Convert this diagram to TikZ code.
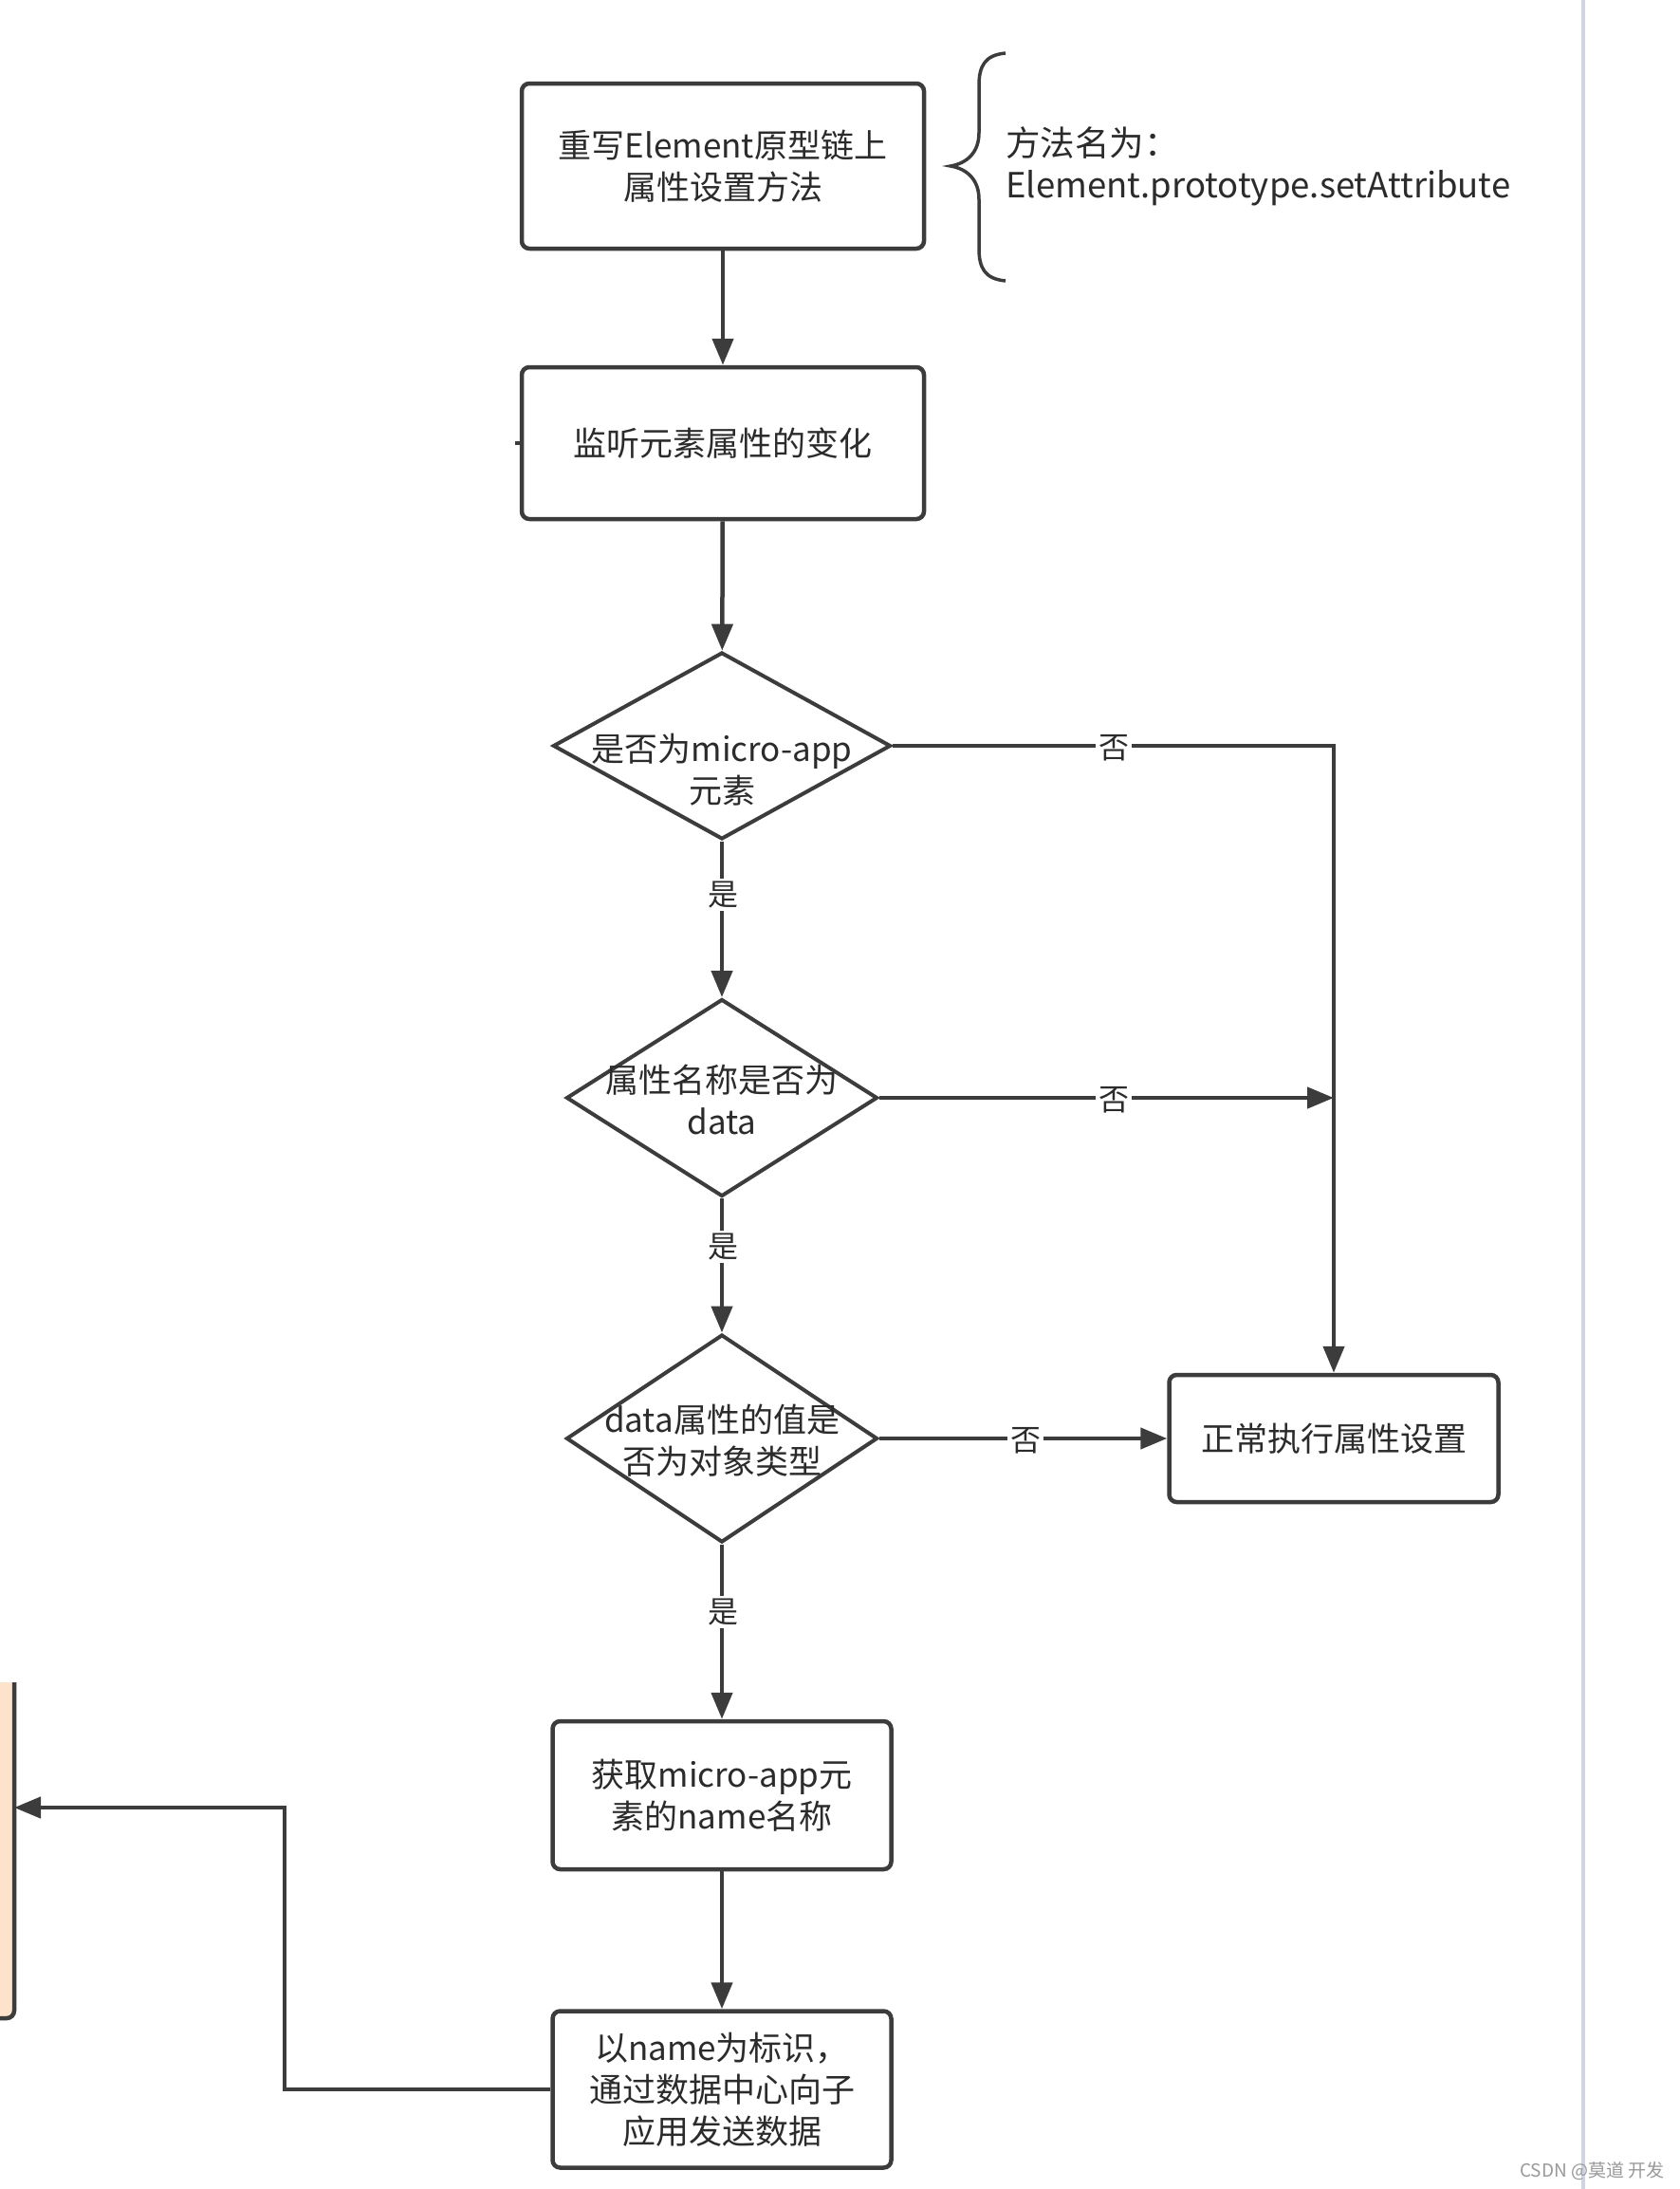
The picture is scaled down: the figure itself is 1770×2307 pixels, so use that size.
\documentclass[tikz,border=0pt]{standalone}
\usepackage{fontspec}
\newfontfamily\cjk{Noto Sans CJK SC}
\usetikzlibrary{shapes.geometric,arrows.meta}
\definecolor{ln}{HTML}{3C3C3C}
\definecolor{txt}{HTML}{2B2B2B}
\definecolor{peach}{HTML}{FDE3CB}
\definecolor{sep}{HTML}{CDD5E0}
\begin{document}
\begin{tikzpicture}[x=1pt,y=-1pt,
  box/.style={draw=ln, line width=4.5pt, rounded corners=8pt, fill=white, font=\cjk\fontsize{35}{44}\selectfont, text=txt, align=center, inner sep=0pt},
  dia/.style={draw=ln, line width=4pt, diamond, fill=white, inner sep=0pt},
  dtxt/.style={font=\cjk\fontsize{35}{44}\selectfont, text=txt, align=center, inner sep=0pt},
  arr/.style={draw=ln, line width=4.5pt, -{Triangle[length=28pt,width=22pt]}},
  lnk/.style={draw=ln, line width=4.5pt},
  lbl/.style={fill=white, font=\cjk\fontsize{32}{32}\selectfont, text=txt, inner sep=3pt}]
\useasboundingbox (0,0) rectangle (1770,2307);
\fill[white] (0,0) rectangle (1770,2307);
% right separator line
\draw[sep, line width=4pt] (1669,0) -- (1669,2307);
% left peach box (cropped)
\fill[peach] (-20,1773) rectangle (15,2127);
\draw[ln, line width=4.5pt, rounded corners=8pt] (15,1773) -- (15,2127) -- (-20,2127);
\coordinate (side) at (15,1905);
% nodes
\node[box, minimum width=424pt, minimum height=174pt] (b1) at (762,175) {重写Element原型链上\\属性设置方法};
\node[box, minimum width=424pt, minimum height=160pt] (b2) at (762,467) {监听元素属性的变化};
\node[dia, minimum width=356pt, minimum height=197pt] (d1) at (761,786) {};
\node[dtxt] (t1) at (761,811) {是否为micro-app\\元素};
\node[dia, minimum width=328pt, minimum height=208pt] (d2) at (761,1157) {};
\node[dtxt] (t2) at (761,1159) {属性名称是否为\\data};
\node[dia, minimum width=328pt, minimum height=219pt] (d3) at (761,1516) {};
\node[dtxt] (t3) at (761,1518) {data属性的值是\\否为对象类型};
\node[box, minimum width=347pt, minimum height=134pt] (b3) at (1406,1516) {正常执行属性设置};
\node[box, minimum width=357pt, minimum height=156pt] (b4) at (761,1892) {获取micro-app元\\素的name名称};
\node[box, minimum width=357pt, minimum height=165pt] (b5) at (761,2202) {以name为标识，\\通过数据中心向子\\应用发送数据};
% brace
\node[dtxt, font=\cjk\fontsize{36.5}{44}\selectfont, align=left, anchor=west] (note) at (1060,175) {方法名为：\\Element.prototype.setAttribute};
\draw[ln, line width=3.5pt] (1060,56) .. controls (1038,58) and (1032,70) .. (1032,90) -- (1032,140) .. controls (1032,160) and (1020,172) .. (1002,175) .. controls (1020,178) and (1032,190) .. (1032,210) -- (1032,262) .. controls (1032,282) and (1038,294) .. (1060,296);
% connectors
\draw[arr] (b1) -- (b2);
\draw[arr] (b2) -- (d1);
\draw[lnk] (b2.west) -- ++(-5,0);
\draw[arr] (d1) -- (d2);
\node[lbl] at (762,943) {是};
\draw[arr] (d2) -- (d3);
\node[lbl] at (762,1314) {是};
\draw[arr] (d3) -- (b4);
\node[lbl] at (762,1699) {是};
\draw[arr] (b4) -- (b5);
\draw[arr] (d1.east) -| (b3.north);
\node[lbl] at (1174,788) {否};
\coordinate (j2) at (b3.north |- d2.east);
\draw[arr] (d2.east) -- (j2);
\node[lbl] at (1174,1159) {否};
\draw[arr] (d3.east) -- (b3.west);
\node[lbl] at (1081,1518) {否};
\coordinate (k) at (300,2202);
\draw[arr] (b5.west) -- (k) |- (side);
% watermark
\node[font=\cjk\fontsize{19}{19}\selectfont, text=gray!80, anchor=west, inner sep=0pt] (wm) at (1602,2288) {CSDN @莫道 开发};
\end{tikzpicture}
\end{document}
